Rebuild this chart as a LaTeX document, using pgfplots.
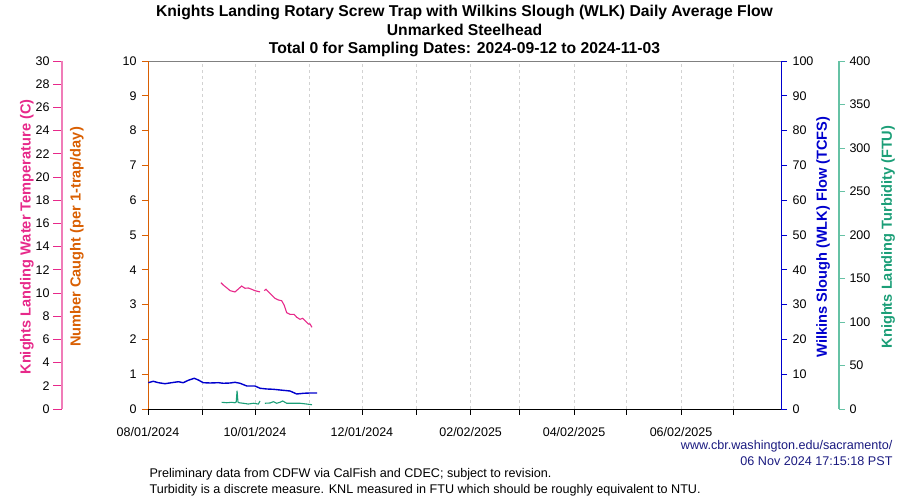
\documentclass[border=0pt]{standalone}
\usepackage{pgfplots}
\pgfplotsset{compat=1.18}
\usepackage{fontspec}
\setmainfont{Liberation Sans}
\definecolor{cOrange}{HTML}{D95F02}
\definecolor{cPink}{HTML}{E7298A}
\definecolor{cPinkL}{HTML}{F07CB8}
\definecolor{cGreen}{HTML}{1B9E77}
\definecolor{cGreenL}{HTML}{66C2A5}
\definecolor{cBlue}{HTML}{0000CD}
\definecolor{cNavy}{HTML}{1A1A80}

\pgfplotstableread{
day temp
41.6 10.89
42.9 10.69
45.2 10.41
46.8 10.20
49.6 10.09
51.5 10.34
53.4 10.60
55.3 10.41
57.2 10.43
59.1 10.32
61.0 10.20
63.9 10.09
65.0 nan
66.3 10.20
67.3 10.32
68.6 10.11
70.5 9.83
72.4 9.54
74.3 9.40
76.2 9.34
77.6 8.97
79.1 8.30
81.0 8.16
83.3 8.16
84.8 7.91
86.7 7.73
88.2 7.82
90.1 7.53
91.4 7.33
92.4 7.33
93.5 7.04
}\temptable

\pgfplotstableread{
day flow
0.2 7.56
3.0 7.96
5.9 7.56
9.7 7.27
13.5 7.56
17.3 7.84
20.1 7.56
23.0 8.25
26.4 8.82
28.7 8.33
31.5 7.56
35.4 7.47
40.1 7.56
43.0 7.39
46.8 7.47
49.6 7.67
52.5 7.39
56.3 6.61
61.0 6.61
63.9 5.95
67.7 5.75
71.5 5.66
75.3 5.46
81.0 5.17
84.8 4.31
88.6 4.51
92.4 4.60
96.5 4.60
}\flowtable

\pgfplotstableread{
day turb
42.0 7.7
44.9 7.2
47.7 7.7
49.6 7.2
50.3 8.0
50.8 21.0
51.3 8.0
51.9 7.2
54.3 6.6
57.2 5.7
60.1 6.6
62.9 5.7
63.9 9.2
65.0 nan
66.6 6.6
69.6 6.9
71.5 8.4
73.4 6.6
75.3 7.7
76.8 9.2
79.1 6.6
82.9 6.6
86.7 6.6
90.5 5.7
93.5 4.9
}\turbtable

\begin{document}
\begin{tikzpicture}[x=1pt,y=1pt]
\useasboundingbox (0,0) rectangle (900,500);
\pgfplotsset{
  base/.style={scale only axis, width=633pt, height=348pt, xmin=0, xmax=361,
    at={(148pt,91pt)}, anchor=south west,
    /pgf/number format/assume math mode=true,
    tick label style={font=\fontsize{12.5}{14}\selectfont},
    tick align=outside, major tick length=7pt},
  overlay/.style={base, axis lines=none, ticks=none, clip=true},
}
% top border
\begin{axis}[base, ymin=0, ymax=10, axis x line*=top, axis y line=none,
  xtick=\empty, x axis line style={gray, line width=0.8pt}]
\end{axis}
% main axis (Number caught)
\begin{axis}[base, ymin=0, ymax=10, axis x line*=bottom, axis y line*=left,
  xtick={0,31,61,92,122,153,184,212,243,273,304,334},
  xticklabels={08/01/2024,,10/01/2024,,12/01/2024,,02/02/2025,,04/02/2025,,06/02/2025,},
  xmajorgrids, grid style={dashed, gray!35, line width=0.6pt},
  x axis line style={black, line width=0.8pt}, x tick style={black, line width=0.6pt},
  major tick length=6pt,
  xticklabel style={yshift=-9pt},
  ytick={0,1,...,10},
  y axis line style={cOrange, line width=0.8pt}, y tick style={cOrange, line width=0.6pt},
  yticklabel style={xshift=-2pt},
  ]
\end{axis}
% flow axis (right)
\begin{axis}[base, ymin=0, ymax=100, axis y line*=right, axis x line=none,
  ytick={0,10,...,100}, major tick length=6pt,
  y axis line style={cBlue, line width=0.8pt}, y tick style={cBlue, line width=0.6pt},
  yticklabel style={xshift=2pt}]
\end{axis}
% temperature axis (far left)
\begin{axis}[scale only axis, width=86pt, height=348pt, at={(62pt,91pt)}, anchor=south west,
  xmin=0, xmax=1, ymin=0, ymax=30, axis y line*=left, axis x line=none,
  ytick={0,2,...,30}, tick align=outside, major tick length=9pt,
  /pgf/number format/assume math mode=true,
  tick label style={font=\fontsize{12.5}{14}\selectfont},
  y axis line style={draw=cPinkL, line width=1.2pt}, y tick style={draw=cPink, line width=0.8pt}]
\end{axis}
% turbidity axis (far right)
\begin{axis}[scale only axis, width=58pt, height=348pt, at={(781pt,91pt)}, anchor=south west,
  xmin=0, xmax=1, ymin=0, ymax=400, axis y line*=right, axis x line=none,
  ytick={0,50,...,400}, tick align=outside, major tick length=6pt,
  /pgf/number format/assume math mode=true,
  tick label style={font=\fontsize{12.5}{14}\selectfont},
  yticklabel style={xshift=1pt},
  y axis line style={draw=none}, y tick style={draw=cGreenL, line width=0.8pt}]
\end{axis}
\draw[cGreenL, line width=1.2pt] (839,91) -- (839,439);
% data overlays
\begin{axis}[overlay, ymin=0, ymax=100]
\addplot[cBlue, line width=1.4pt, no marks] table[x=day, y=flow] {\flowtable};
\end{axis}
\begin{axis}[overlay, ymin=0, ymax=400, unbounded coords=jump]
\addplot[cGreen, line width=1.1pt, no marks] table[x=day, y=turb] {\turbtable};
\end{axis}
\begin{axis}[overlay, ymin=0, ymax=30, unbounded coords=jump]
\addplot[cPink, line width=1.1pt, no marks] table[x=day, y=temp] {\temptable};
\end{axis}
% titles
\node[align=center, font=\bfseries\fontsize{15.7}{18.5}\selectfont] at (464.5,469) {Knights Landing Rotary Screw Trap with Wilkins Slough (WLK) Daily Average Flow\\Unmarked Steelhead\\Total 0 for Sampling Dates: 2024-09-12 to 2024-11-03};
% axis labels
\node[rotate=90, text=cPink, font=\bfseries\fontsize{14.6}{16}\selectfont] at (27,263) {Knights Landing Water Temperature (C)};
\node[rotate=90, text=cOrange, font=\bfseries\fontsize{14.6}{16}\selectfont] at (77,263) {Number Caught (per 1-trap/day)};
\node[rotate=90, text=cBlue, font=\bfseries\fontsize{14.6}{16}\selectfont] at (823,263) {Wilkins Slough (WLK) Flow (TCFS)};
\node[rotate=90, text=cGreen, font=\bfseries\fontsize{14.6}{16}\selectfont] at (888,263) {Knights Landing Turbidity (FTU)};
% footer
\node[anchor=east, text=cNavy, font=\fontsize{12.6}{14}\selectfont] at (896,54) {www.cbr.washington.edu/sacramento/};
\node[anchor=east, text=cNavy, font=\fontsize{12.6}{14}\selectfont] at (896,39) {06 Nov 2024 17:15:18 PST};
\node[anchor=west, font=\fontsize{12.6}{14}\selectfont] at (146,26) {Preliminary data from CDFW via CalFish and CDEC; subject to revision.};
\node[anchor=west, font=\fontsize{12.6}{14}\selectfont] at (146,10) {Turbidity is a discrete measure. KNL measured in FTU which should be roughly equivalent to NTU.};
\end{tikzpicture}
\end{document}
